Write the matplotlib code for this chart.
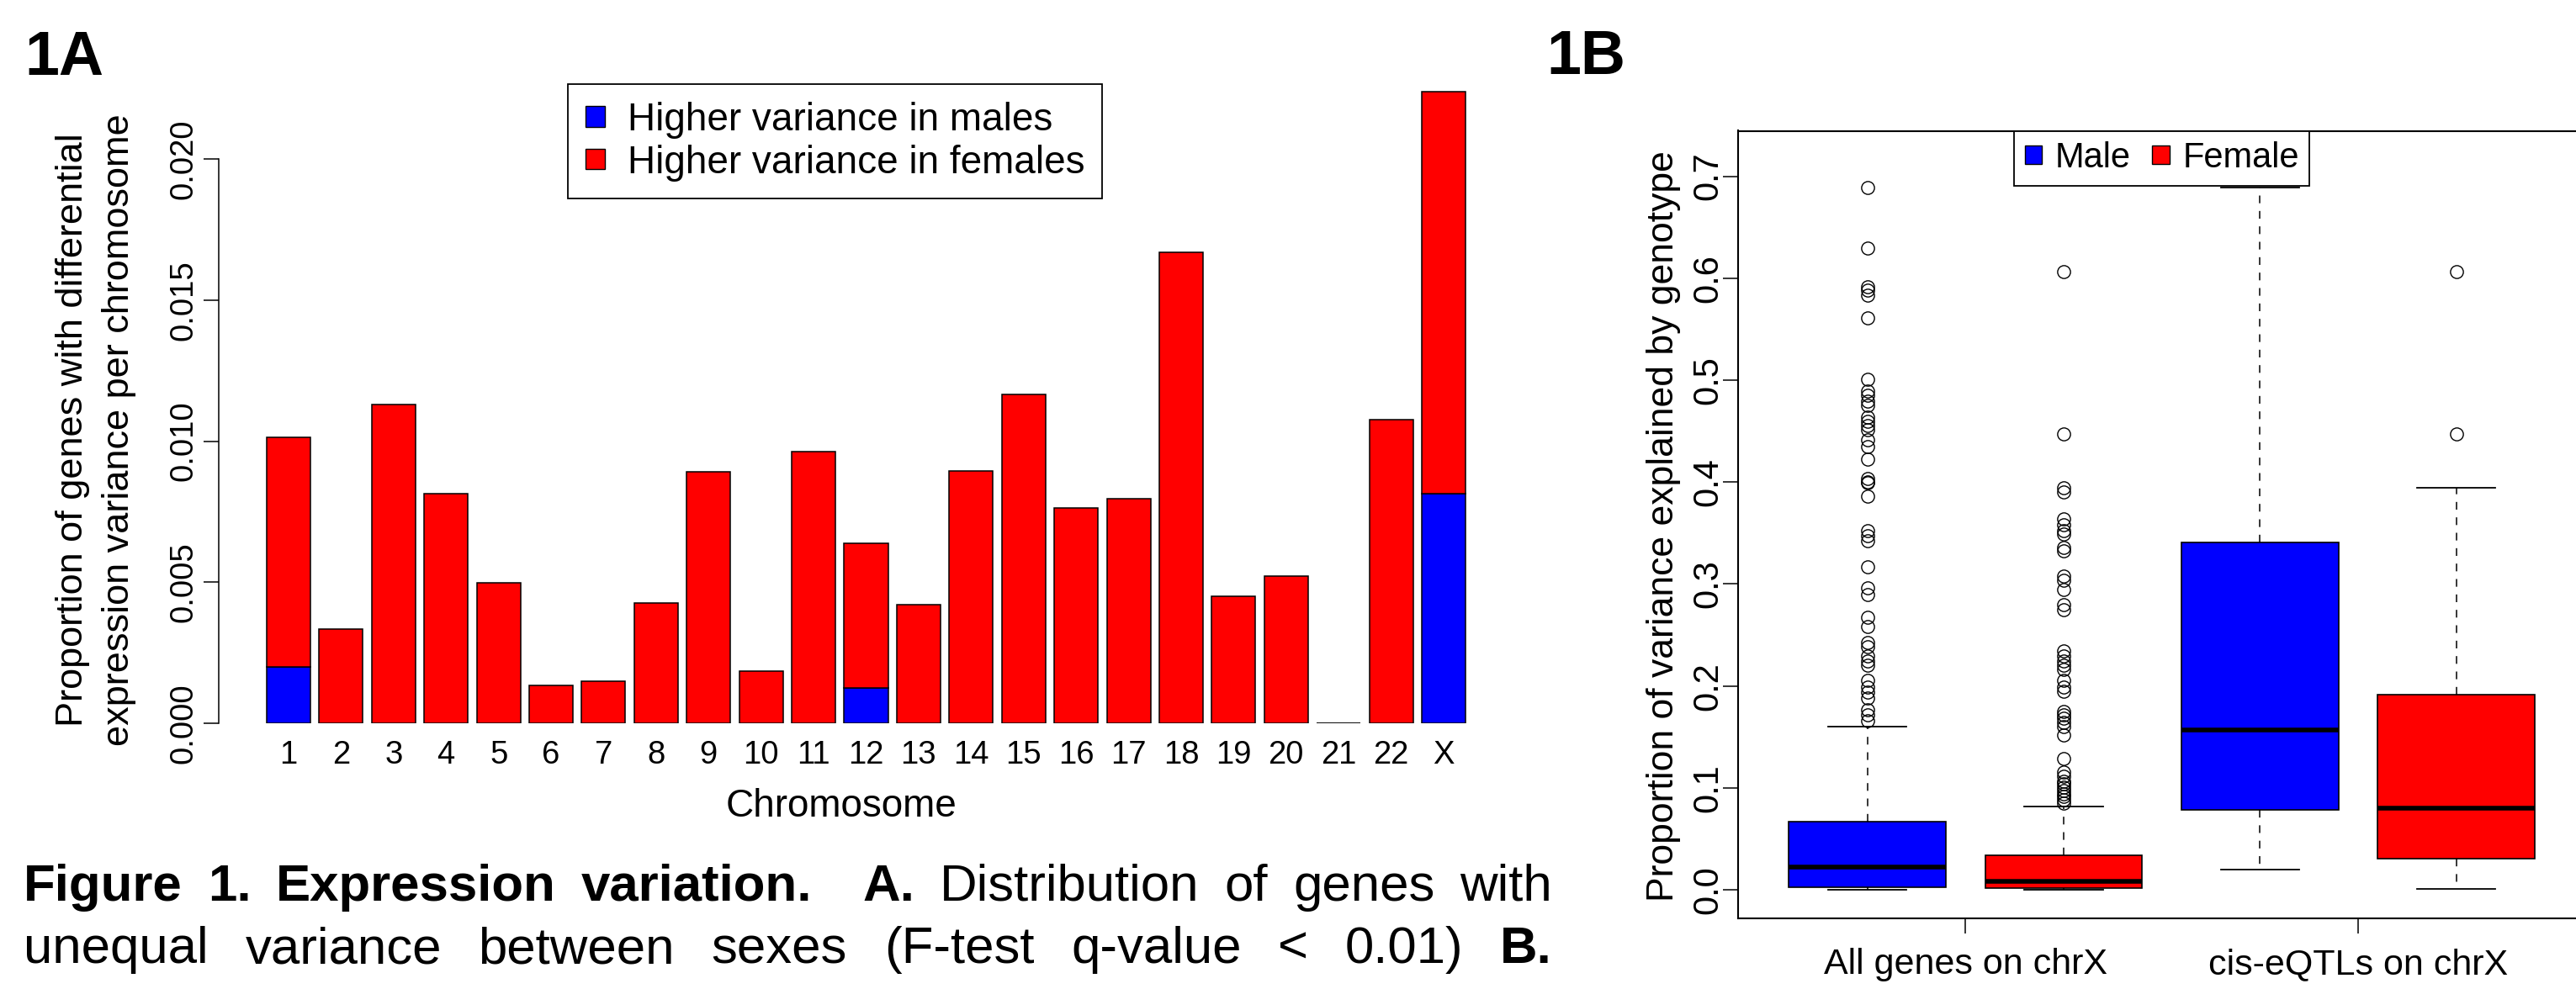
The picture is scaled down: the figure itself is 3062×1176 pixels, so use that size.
import matplotlib
matplotlib.use('Agg')
import matplotlib.pyplot as plt
from matplotlib.patches import Patch

plt.rcParams['font.family'] = ['Liberation Sans', 'DejaVu Sans']

# ---- data: panel A (proportion of genes per chromosome) ----
chromosomes = [str(i) for i in range(1, 23)] + ['X']
total_prop = [0.01014, 0.00334, 0.01129, 0.00815, 0.00497, 0.00135, 0.00149, 0.00426,
              0.00891, 0.00184, 0.00963, 0.00638, 0.00421, 0.00893, 0.01166, 0.00763,
              0.00796, 0.01668, 0.00451, 0.00521, 0.0, 0.01077, 0.02239]
male_prop = [0.00200, 0, 0, 0, 0, 0, 0, 0, 0, 0, 0, 0.00124, 0, 0, 0, 0,
             0, 0, 0, 0, 0, 0, 0.00815]
female_prop = [t - m for t, m in zip(total_prop, male_prop)]

# ---- data: panel B (variance explained by genotype) ----
box_groups = ['All genes on chrX', 'cis-eQTLs on chrX']
box_med = [0.0224, 0.0081, 0.1566, 0.0800]
box_q1 = [0.0026, 0.0014, 0.0784, 0.0309]
box_q3 = [0.0666, 0.0338, 0.3409, 0.1915]
box_lo = [0.0, 0.0, 0.0202, 0.0005]
box_hi = [0.1597, 0.0818, 0.6888, 0.3941]
fliers_male_all = [0.6888, 0.6294, 0.5915, 0.5883, 0.5836, 0.5609, 0.5006, 0.489, 0.485,
                   0.479, 0.475, 0.4636, 0.4596, 0.4557, 0.451, 0.4415, 0.4352, 0.4226,
                   0.4036, 0.4005, 0.399, 0.3862, 0.352, 0.3476, 0.342, 0.3165, 0.296,
                   0.290, 0.2672, 0.2582, 0.243, 0.2385, 0.2294, 0.2248, 0.2203, 0.2057,
                   0.1991, 0.1936, 0.1884, 0.1763, 0.1718, 0.1657]
fliers_female_all = [0.6067, 0.4472, 0.394, 0.390, 0.364, 0.358, 0.352, 0.349, 0.3355,
                     0.3324, 0.308, 0.3036, 0.2946, 0.2794, 0.2748, 0.234, 0.2294, 0.2248,
                     0.2203, 0.2158, 0.2051, 0.1991, 0.1945, 0.1748, 0.1718, 0.1687,
                     0.1642, 0.1597, 0.1521, 0.1287, 0.1157, 0.1111, 0.1066, 0.1036,
                     0.1006, 0.0975, 0.0945, 0.0914, 0.0884, 0.0854]
fliers_male_cis = []
fliers_female_cis = [0.6067, 0.4472]
box_fliers = [fliers_male_all, fliers_female_all, fliers_male_cis, fliers_female_cis]

BLUE = '#0000FF'
RED = '#FF0000'

W, H = 3062, 1176
fig = plt.figure(figsize=(W / 100, H / 100), dpi=100, facecolor='white')


def fx(x):
    return x / W


def fy(y):
    return 1 - y / H


# ================= panel A =================
axA = fig.add_axes([fx(260), fy(860), (1799 - 260) / W, (860 - 71.6) / H])
xpos = [0.7 + 1.2 * i for i in range(len(chromosomes))]
axA.bar(xpos, male_prop, width=1.0, color=BLUE, edgecolor='black', linewidth=1.1)
axA.bar(xpos, female_prop, width=1.0, bottom=male_prop, color=RED, edgecolor='black', linewidth=1.1)
axA.set_xlim(-0.896, 28.696)
axA.set_ylim(0, 0.0235)
for s in ['top', 'right', 'bottom']:
    axA.spines[s].set_visible(False)
axA.spines['left'].set_bounds(0, 0.02)
axA.spines['left'].set_linewidth(1.1)
axA.set_yticks([0, 0.005, 0.01, 0.015, 0.02])
axA.set_yticklabels(['0.000', '0.005', '0.010', '0.015', '0.020'])
axA.tick_params(axis='y', length=13, width=1.1, pad=9.4, labelsize=27.5)
plt.setp(axA.get_yticklabels(), rotation=90, rotation_mode='anchor', ha='center', va='baseline')
axA.set_xticks(xpos)
axA.set_xticklabels(chromosomes)
axA.tick_params(axis='x', length=0, pad=14.4, labelsize=27.5)

fig.text(fx(1000), fy(971), 'Chromosome', fontsize=33, ha='center', va='baseline')
ymid = 511
fig.text(fx(98), fy(ymid), 'Proportion of genes with differential', fontsize=32.5,
         rotation=90, rotation_mode='anchor', ha='center', va='baseline')
fig.text(fx(153), fy(ymid), 'expression variance per chromosome', fontsize=32.5,
         rotation=90, rotation_mode='anchor', ha='center', va='baseline')

legA = axA.legend(handles=[Patch(facecolor=BLUE, edgecolor='black', linewidth=1),
                           Patch(facecolor=RED, edgecolor='black', linewidth=1)],
                  labels=['Higher variance in males', 'Higher variance in females'],
                  loc='upper left', bbox_to_anchor=(fx(675), fy(100)),
                  bbox_transform=fig.transFigure, borderaxespad=0, fontsize=33,
                  handlelength=0.5, handleheight=0.45, handletextpad=0.6,
                  borderpad=0.45, labelspacing=0.15, fancybox=False, framealpha=1)
legA.get_frame().set_edgecolor('black')
legA.get_frame().set_linewidth(1.3)

fig.text(fx(29), fy(89), '1A', fontsize=53, fontweight='bold', va='baseline', ha='left')
fig.text(fx(1838), fy(88), '1B', fontsize=53, fontweight='bold', va='baseline', ha='left')

# ================= panel B =================
axB = fig.add_axes([fx(2065.6), fy(1091.5), (3073.7 - 2065.6) / W, (1091.5 - 155.5) / H])
stats = []
for i in range(4):
    stats.append(dict(med=box_med[i], q1=box_q1[i], q3=box_q3[i],
                      whislo=box_lo[i], whishi=box_hi[i], fliers=box_fliers[i]))
bp = axB.bxp(stats, positions=[1, 2, 3, 4], widths=0.8, patch_artist=True,
             capwidths=0.4,
             boxprops=dict(edgecolor='black', linewidth=1.2),
             medianprops=dict(color='black', linewidth=4, solid_capstyle='butt'),
             whiskerprops=dict(color='black', linewidth=1.1, linestyle=(0, (6, 6))),
             capprops=dict(color='black', linewidth=1.3),
             flierprops=dict(marker='o', markerfacecolor='none', markeredgecolor='black',
                             markersize=11, markeredgewidth=1.0, linestyle='none'))
for patch, c in zip(bp['boxes'], [BLUE, RED, BLUE, RED]):
    patch.set_facecolor(c)
axB.set_xlim(0.34, 4.66)
axB.set_ylim(-0.0276, 0.7446)
for s in axB.spines.values():
    s.set_linewidth(1.5)
axB.set_xticks([1.5, 3.5])
axB.set_xticklabels(box_groups)
axB.tick_params(axis='x', length=13, width=1.1, pad=12.6, labelsize=31)
axB.set_yticks([0, 0.1, 0.2, 0.3, 0.4, 0.5, 0.6, 0.7])
axB.set_yticklabels(['0.0', '0.1', '0.2', '0.3', '0.4', '0.5', '0.6', '0.7'])
axB.tick_params(axis='y', length=13, width=1.1, pad=4.8, labelsize=30)
plt.setp(axB.get_yticklabels(), rotation=90, rotation_mode='anchor', ha='center', va='baseline')
fig.text(fx(1989), fy(626), 'Proportion of variance explained by genotype', fontsize=32,
         rotation=90, rotation_mode='anchor', ha='center', va='baseline')

legB = axB.legend(handles=[Patch(facecolor=BLUE, edgecolor='black', linewidth=1),
                           Patch(facecolor=RED, edgecolor='black', linewidth=1)],
                  labels=['Male', 'Female'], ncol=2, loc='upper center',
                  bbox_to_anchor=(0.5, 1.0), borderaxespad=0, fontsize=30,
                  handlelength=0.5, handleheight=0.45, handletextpad=0.36,
                  columnspacing=0.62, borderpad=0.3, fancybox=False, framealpha=1)
legB.get_frame().set_edgecolor('black')
legB.get_frame().set_linewidth(1.3)

# ================= caption (justified) =================
line1 = [('Figure', True), ('1.', True), ('Expression', True), ('variation.', True),
         ('A.', True), ('Distribution', False), ('of', False), ('genes', False), ('with', False)]
line1_gaps = [1, 1, 1, 2, 1, 1, 1, 1]
line2 = [('unequal', False), ('variance', False), ('between', False), ('sexes', False),
         ('(F-test', False), ('q-value', False), ('<', False), ('0.01)', False), ('B.', True)]
line2_gaps = [1] * 8

fig.canvas.draw()
renderer = fig.canvas.get_renderer()


def justify(words, gaps, baseline, x0, x1, size=44.5):
    texts = [fig.text(0, fy(baseline), w, fontsize=size, va='baseline', ha='left',
                      fontweight='bold' if b else 'normal') for w, b in words]
    widths = [t.get_window_extent(renderer).width for t in texts]
    unit = (x1 - x0 - sum(widths)) / sum(gaps)
    x = x0
    for i, t in enumerate(texts):
        t.set_x(fx(x))
        x += widths[i]
        if i < len(gaps):
            x += unit * gaps[i]


justify(line1, line1_gaps, 1070.7, 28, 1845)
justify(line2, line2_gaps, 1145, 28, 1845)

fig.savefig('out.png', dpi=100, facecolor='white')
